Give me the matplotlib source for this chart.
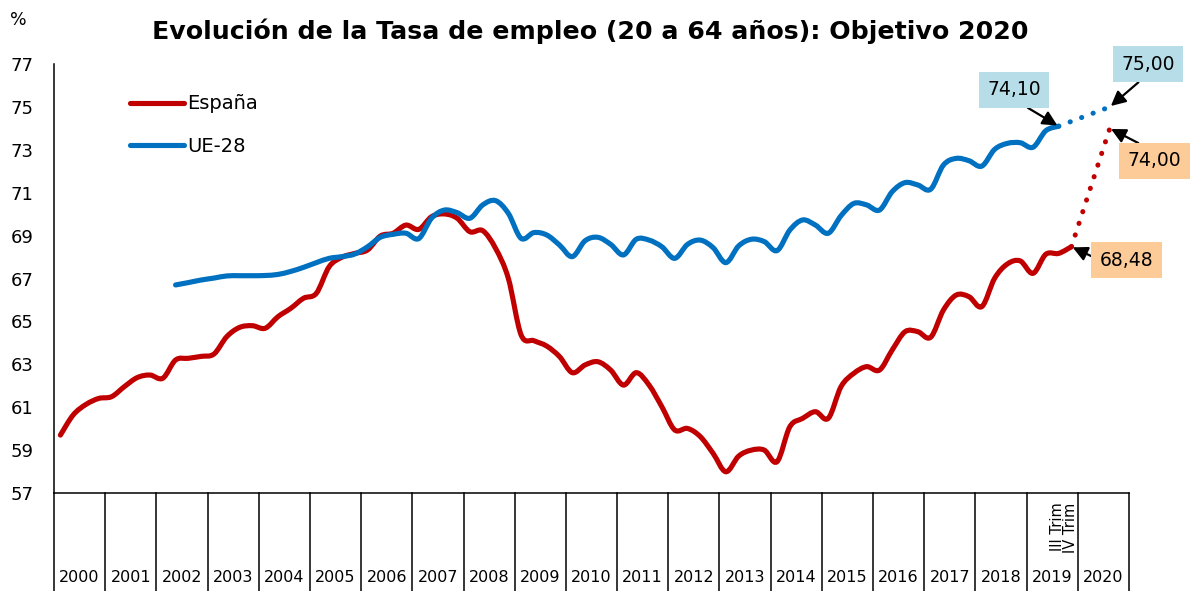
import matplotlib
matplotlib.use("Agg")
import matplotlib.pyplot as plt
from matplotlib.path import Path
from matplotlib.patches import PathPatch
from matplotlib.lines import Line2D

plt.rcParams['font.family'] = ['DejaVu Sans']

# datos trimestrales (2000 I Trim - 2019 IV Trim)
years = [str(y) for y in range(2000, 2021)]
espana = [
    59.70, 60.64, 61.13, 61.41,  # 2000
    61.49, 61.96, 62.38, 62.50,  # 2001
    62.35, 63.20, 63.28, 63.37,  # 2002
    63.48, 64.29, 64.72, 64.80,  # 2003
    64.68, 65.22, 65.61, 66.08,  # 2004
    66.31, 67.55, 67.99, 68.17,  # 2005
    68.33, 68.98, 69.11, 69.49,  # 2006
    69.29, 69.88, 70.01, 69.81,  # 2007
    69.18, 69.23, 68.41, 67.01,  # 2008
    64.37, 64.10, 63.85, 63.36,  # 2009
    62.61, 62.97, 63.12, 62.73,  # 2010
    62.03, 62.61, 62.03, 61.02,  # 2011
    59.94, 60.01, 59.63, 58.85,  # 2012
    57.99, 58.72, 59.00, 59.00,  # 2013
    58.46, 60.09, 60.48, 60.79,  # 2014
    60.48, 61.96, 62.58, 62.89,  # 2015
    62.73, 63.67, 64.52, 64.52,  # 2016
    64.26, 65.53, 66.23, 66.15,  # 2017
    65.69, 67.01, 67.68, 67.82,  # 2018
    67.24, 68.13, 68.17, 68.48,  # 2019
]
ue28_start = 9  # 2002 II Trim
ue28 = [
    66.70, 66.81, 66.93,         # 2002
    67.02, 67.12, 67.13, 67.13,  # 2003
    67.14, 67.19, 67.33, 67.52,  # 2004
    67.74, 67.94, 68.02, 68.14,  # 2005
    68.48, 68.92, 69.06, 69.11,  # 2006
    68.86, 69.81, 70.19, 70.07,  # 2007
    69.81, 70.43, 70.63, 70.04,  # 2008
    68.87, 69.14, 69.03, 68.56,  # 2009
    68.02, 68.76, 68.92, 68.59,  # 2010
    68.10, 68.83, 68.79, 68.48,  # 2011
    67.94, 68.59, 68.79, 68.44,  # 2012
    67.74, 68.52, 68.83, 68.72,  # 2013
    68.30, 69.26, 69.73, 69.49,  # 2014
    69.11, 69.93, 70.50, 70.43,  # 2015
    70.19, 71.05, 71.47, 71.36,  # 2016
    71.16, 72.29, 72.60, 72.49,  # 2017
    72.24, 73.02, 73.30, 73.33,  # 2018
    73.12, 73.89, 74.10,         # 2019
]
target_idx = 82  # 2020
espana_obj = 74.00
ue28_obj = 75.00
trim_labels = ["III Trim", "IV Trim"]

red = '#C00000'
blue = '#0070C0'


def smooth(xs, ys):
    # curva suavizada tipo excel (bezier)
    verts = [(xs[0], ys[0])]
    codes = [Path.MOVETO]
    n = len(xs)
    for k in range(n - 1):
        a = max(k - 1, 0)
        b = min(k + 2, n - 1)
        c1 = (xs[k] + (xs[k + 1] - xs[a]) / 6, ys[k] + (ys[k + 1] - ys[a]) / 6)
        c2 = (xs[k + 1] - (xs[b] - xs[k]) / 6, ys[k + 1] - (ys[b] - ys[k]) / 6)
        verts += [c1, c2, (xs[k + 1], ys[k + 1])]
        codes += [Path.CURVE4] * 3
    return Path(verts, codes)


fig = plt.figure(figsize=(11.92, 5.91), dpi=100)
ax = fig.add_axes([54 / 1192, 1 - 493 / 591, (1129 - 54) / 1192, (493 - 64) / 591])
ax.set_xlim(0, 84)
ax.set_ylim(57, 77)

x_es = [i + 0.5 for i in range(len(espana))]
x_ue = [ue28_start + i + 0.5 for i in range(len(ue28))]

ax.add_patch(PathPatch(smooth(x_es, espana), fill=False, ec=red, lw=3.7,
                       capstyle='round', joinstyle='round'))
ax.add_patch(PathPatch(smooth(x_ue, ue28), fill=False, ec=blue, lw=3.7,
                       capstyle='round', joinstyle='round'))

# tramos hacia el objetivo 2020
ax.plot([x_es[-1], target_idx + 0.5], [espana[-1], espana_obj], color=red, lw=3.6,
        linestyle=(0, (0.05, 2.4)), dash_capstyle='round', clip_on=False)
ax.plot([x_ue[-1], target_idx + 0.5], [ue28[-1], ue28_obj], color=blue, lw=3.6,
        linestyle=(0, (0.05, 2.4)), dash_capstyle='round', clip_on=False)

ax.set_yticks(range(57, 78, 2))
ax.tick_params(axis='y', length=0, pad=14.5, labelsize=13)
ax.set_xticks([])
for s in ['top', 'right']:
    ax.spines[s].set_visible(False)
ax.spines['left'].set_linewidth(1.1)
ax.spines['bottom'].set_linewidth(1.1)

# eje de categorias
xt = ax.get_xaxis_transform()
for k in range(len(years) + 1):
    ax.plot([k * 4, k * 4], [0, -0.235], transform=xt, color='black', lw=1.1, clip_on=False)
for k, y in enumerate(years):
    ax.text(k * 4 + 2, -0.198, y, transform=xt, ha='center', va='center', fontsize=11.5)
for k, t in enumerate(trim_labels):
    ax.text(78.4 + k, -0.022, t, transform=xt, ha='center', va='top', rotation=90, fontsize=10.5)

handles = [Line2D([], [], color=red, lw=3.7, solid_capstyle='round'),
           Line2D([], [], color=blue, lw=3.7, solid_capstyle='round')]
ax.legend(handles, ['España', 'UE-28'], loc='upper left', bbox_to_anchor=(0.0544, 0.97),
          frameon=False, fontsize=14, handlelength=2.8, handletextpad=0.15, labelspacing=1.2)

# etiquetas
blue_box = '#B7DEE8'
orange_box = '#FCCB98'


def arr(rel):
    return dict(arrowstyle='-|>', color='black', lw=1.6, mutation_scale=22,
                shrinkA=0, shrinkB=1, relpos=rel)


ax.annotate('74,10', xy=(x_ue[-1], ue28[-1]), xytext=(75.0, 75.79), fontsize=13.5, ha='center', va='center',
            bbox=dict(boxstyle='square,pad=0.45', fc=blue_box, ec='none'), arrowprops=arr((0.5, 0)),
            annotation_clip=False)
ax.annotate('75,00', xy=(target_idx + 0.5, ue28_obj), xytext=(85.5, 76.98), fontsize=13.5, ha='center', va='center',
            bbox=dict(boxstyle='square,pad=0.45', fc=blue_box, ec='none'), arrowprops=arr((0.5, 0)),
            annotation_clip=False)
ax.annotate('74,00', xy=(target_idx + 0.5, espana_obj), xytext=(86.0, 72.48), fontsize=13.5, ha='center', va='center',
            bbox=dict(boxstyle='square,pad=0.45', fc=orange_box, ec='none'), arrowprops=arr((0.5, 1)),
            annotation_clip=False)
ax.annotate('68,48', xy=(x_es[-1], espana[-1]), xytext=(83.8, 67.86), fontsize=13.5, ha='center', va='center',
            bbox=dict(boxstyle='square,pad=0.45', fc=orange_box, ec='none'), arrowprops=arr((0, 0.5)),
            annotation_clip=False)

fig.text(590 / 1192, 1 - 31 / 591, 'Evolución de la Tasa de empleo (20 a 64 años): Objetivo 2020',
         ha='center', va='center', fontsize=18.2, fontweight='bold')
fig.text(18 / 1192, 1 - 20 / 591, '%', ha='center', va='center', fontsize=12.5)

fig.savefig('out.png', dpi=100)
